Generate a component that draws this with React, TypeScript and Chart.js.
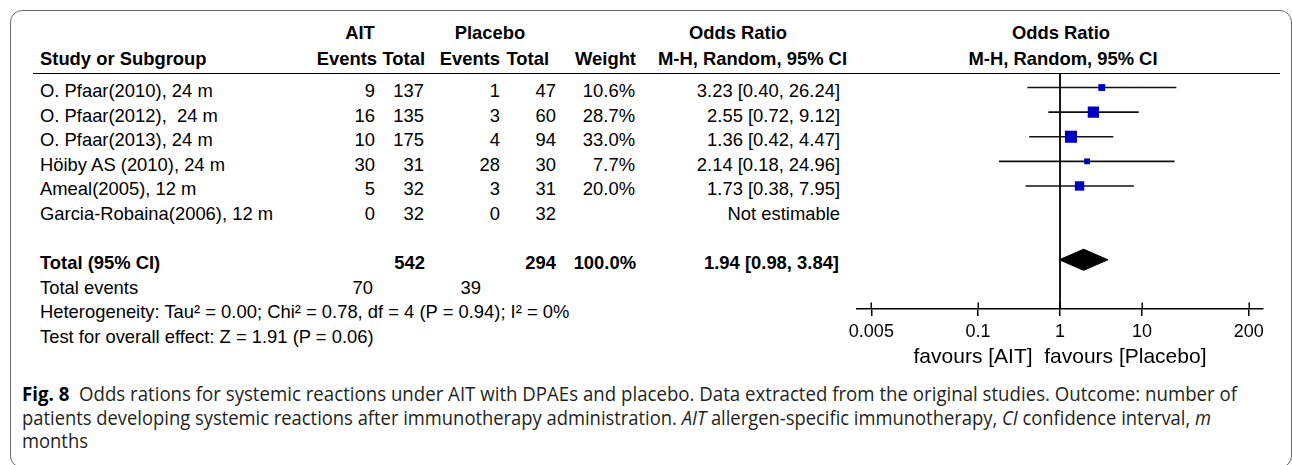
import React, { useEffect, useLayoutEffect, useRef } from "react";
import { Chart, registerables } from "chart.js";

Chart.register(...registerables);

// ---------------- data ----------------
const STUDIES = [
  "O. Pfaar(2010), 24 m",
  "O. Pfaar(2012),  24 m",
  "O. Pfaar(2013), 24 m",
  "Höiby AS (2010), 24 m",
  "Ameal(2005), 12 m",
  "Garcia-Robaina(2006), 12 m",
];
const AIT_EVENTS = [9, 16, 10, 30, 5, 0];
const AIT_TOTAL = [137, 135, 175, 31, 32, 32];
const PLACEBO_EVENTS = [1, 3, 4, 28, 3, 0];
const PLACEBO_TOTAL = [47, 60, 94, 30, 31, 32];
const WEIGHTS: (number | null)[] = [10.6, 28.7, 33.0, 7.7, 20.0, null];
const OR_EST: (number | null)[] = [3.23, 2.55, 1.36, 2.14, 1.73, null];
const OR_LOW: (number | null)[] = [0.4, 0.72, 0.42, 0.18, 0.38, null];
const OR_HIGH: (number | null)[] = [26.24, 9.12, 4.47, 24.96, 7.95, null];

const TOTAL_AIT = 542;
const TOTAL_PLACEBO = 294;
const TOTAL_WEIGHT = 100.0;
const TOTAL_EST = 1.94;
const TOTAL_LOW = 0.98;
const TOTAL_HIGH = 3.84;
const EVENTS_AIT = 70;
const EVENTS_PLACEBO = 39;

const HETEROGENEITY = "Heterogeneity: Tau² = 0.00; Chi² = 0.78, df = 4 (P = 0.94); I² = 0%";
const OVERALL = "Test for overall effect: Z = 1.91 (P = 0.06)";

const TICKS = [0.005, 0.1, 1, 10, 200];
const TICK_LABELS = ["0.005", "0.1", "1", "10", "200"];
const AXIS_TITLE = "favours [AIT]  favours [Placebo]";

// ---------------- layout (styles only) ----------------
const FONT = '"Liberation Sans", Arial, Helvetica, sans-serif';
const FS = 18.4;
const TOTAL_ROW = 7;
const Y_MIN = -0.59;
const Y_MAX = 9.0;
const ROW0_TEXT = 91;
const ROW_PITCH = 24.6;
const CANVAS_LEFT = 840;
const CANVAS_W = 452;
const CANVAS_H = 380;

const fmt2 = (v: number) => v.toFixed(2);
const orText = (e: number | null, l: number | null, h: number | null) =>
  e == null || l == null || h == null ? "Not estimable" : `${fmt2(e)} [${fmt2(l)}, ${fmt2(h)}]`;

type TProps = {
  x: number;
  y: number;
  align?: "left" | "right" | "center";
  bold?: boolean;
  size?: number;
  children: React.ReactNode;
};
function T({ x, y, align = "left", bold = false, size = FS, children }: TProps) {
  const lh = 22;
  const tx = align === "right" ? "translateX(-100%)" : align === "center" ? "translateX(-50%)" : "none";
  return (
    <div
      style={{
        position: "absolute",
        left: x,
        top: y - lh / 2,
        lineHeight: lh + "px",
        fontSize: size,
        fontWeight: bold ? 700 : 400,
        whiteSpace: "pre",
        transform: tx,
        color: "#000",
      }}
    >
      {children}
    </div>
  );
}

const upperTicks = {
  id: "upperTicks",
  afterDraw(chart: any) {
    const xs = chart.scales.x;
    const ctx = chart.ctx;
    const y = chart.chartArea.bottom;
    ctx.save();
    ctx.strokeStyle = "#000";
    ctx.lineWidth = 1.5;
    xs.ticks.forEach((t: any) => {
      const px = Math.round(xs.getPixelForValue(t.value)) + 0.25;
      ctx.beginPath();
      ctx.moveTo(px, y - 6.5);
      ctx.lineTo(px, y);
      ctx.stroke();
    });
    ctx.restore();
  },
};

export default function App() {
  const canvasRef = useRef<HTMLCanvasElement>(null);
  const cap1 = useRef<HTMLDivElement>(null);
  const cap2 = useRef<HTMLDivElement>(null);
  const cap3 = useRef<HTMLDivElement>(null);

  useEffect(() => {
    const datasets: any[] = [];
    // boxes (drawn on top -> first)
    const boxPts: any[] = [];
    const boxRadii: number[] = [];
    OR_EST.forEach((e, i) => {
      const w = WEIGHTS[i];
      if (e != null && w != null) {
        boxPts.push({ x: e, y: i });
        boxRadii.push((2.1 * Math.sqrt(w)) / Math.SQRT2);
      }
    });
    datasets.push({
      data: boxPts,
      showLine: false,
      pointStyle: "rect",
      pointRadius: boxRadii,
      pointBackgroundColor: "#0000c4",
      pointBorderWidth: 0,
      pointBorderColor: "#0000c4",
    });
    // confidence intervals
    OR_EST.forEach((e, i) => {
      const lo = OR_LOW[i];
      const hi = OR_HIGH[i];
      if (e != null && lo != null && hi != null) {
        datasets.push({
          data: [
            { x: lo, y: i },
            { x: hi, y: i },
          ],
          borderColor: "#111",
          borderWidth: 1.6,
          pointRadius: 0,
          fill: false,
        });
      }
    });
    // total diamond (two halves filled between)
    const DH = 0.43;
    datasets.push({
      data: [
        { x: TOTAL_LOW, y: TOTAL_ROW },
        { x: TOTAL_EST, y: TOTAL_ROW - DH },
        { x: TOTAL_HIGH, y: TOTAL_ROW },
      ],
      borderColor: "#000",
      borderWidth: 1,
      backgroundColor: "#000",
      pointRadius: 0,
      tension: 0,
      fill: "+1",
    });
    datasets.push({
      data: [
        { x: TOTAL_LOW, y: TOTAL_ROW },
        { x: TOTAL_EST, y: TOTAL_ROW + DH },
        { x: TOTAL_HIGH, y: TOTAL_ROW },
      ],
      borderColor: "#000",
      borderWidth: 1,
      backgroundColor: "#000",
      pointRadius: 0,
      tension: 0,
      fill: false,
    });
    // line of no effect
    datasets.push({
      data: [
        { x: 1, y: Y_MIN },
        { x: 1, y: Y_MAX },
      ],
      borderColor: "#000",
      borderWidth: 1.8,
      pointRadius: 0,
      fill: false,
    });

    const chart = new Chart(canvasRef.current as HTMLCanvasElement, {
      type: "line",
      data: { datasets },
      options: {
        responsive: false,
        animation: false,
        devicePixelRatio: 1,
        layout: { padding: { left: 17, right: 29, top: 73, bottom: 0 } },
        plugins: { legend: { display: false }, tooltip: { enabled: false } },
        scales: {
          x: {
            type: "logarithmic",
            min: 0.00334,
            max: 299,
            bounds: "data",
            afterBuildTicks: (scale: any) => {
              scale.ticks = TICKS.map((v) => ({ value: v }));
            },
            afterFit: (scale: any) => {
              scale.height = 71;
            },
            grid: {
              display: true,
              drawOnChartArea: false,
              drawTicks: true,
              tickLength: 7,
              color: "#000",
              lineWidth: 1.5,
            },
            border: { display: true, color: "#000", width: 1.5 },
            ticks: {
              autoSkip: false,
              maxRotation: 0,
              minRotation: 0,
              padding: 5,
              color: "#000",
              font: { family: FONT, size: 18 },
              callback: (_v: any, i: number) => TICK_LABELS[i],
            },
            title: {
              display: true,
              text: AXIS_TITLE,
              color: "#000",
              font: { family: FONT, size: 21 },
              padding: { top: 0, bottom: 10 },
            },
          },
          y: {
            type: "linear",
            reverse: true,
            min: Y_MIN,
            max: Y_MAX,
            display: false,
          },
        },
      } as any,
      plugins: [upperTicks],
    });
    return () => chart.destroy();
  }, []);

  useLayoutEffect(() => {
    const fit = (el: HTMLDivElement | null, target: number | null, factor?: number) => {
      if (!el) return 1;
      el.style.transform = "none";
      const w = el.getBoundingClientRect().width;
      const f = target != null ? target / w : factor || 1;
      el.style.transform = `scaleX(${f})`;
      return f;
    };
    fit(cap1.current, 1215);
    const f2 = fit(cap2.current, 1189);
    fit(cap3.current, null, f2);
  }, []);

  const rowY = (k: number) => ROW0_TEXT + ROW_PITCH * k;
  const capStyle: React.CSSProperties = {
    position: "absolute",
    left: 22,
    display: "inline-block",
    whiteSpace: "pre",
    transformOrigin: "0 0",
    fontFamily: '"Open Sans", sans-serif',
    fontSize: 19.5,
    lineHeight: "24px",
    color: "#231f20",
  };

  return (
    <div
      style={{
        position: "absolute",
        left: 0,
        top: 0,
        width: 1292,
        height: 465,
        overflow: "hidden",
        background: "#fff",
        fontFamily: FONT,
      }}
    >
      {/* frame */}
      <div
        style={{
          position: "absolute",
          left: 10,
          top: 10,
          width: 1282,
          height: 458,
          boxSizing: "border-box",
          border: "1.5px solid #6a6a6a",
          borderRadius: 12,
        }}
      />

      {/* header */}
      <T x={360} y={33} align="center" bold>AIT</T>
      <T x={490} y={33} align="center" bold>Placebo</T>
      <T x={738} y={33} align="center" bold>Odds Ratio</T>
      <T x={1061} y={33} align="center" bold>Odds Ratio</T>

      <T x={40} y={59} bold>Study or Subgroup</T>
      <T x={377} y={59} align="right" bold>Events</T>
      <T x={425} y={59} align="right" bold>Total</T>
      <T x={500} y={59} align="right" bold>Events</T>
      <T x={549} y={59} align="right" bold>Total</T>
      <T x={636} y={59} align="right" bold>Weight</T>
      <T x={847} y={59} align="right" bold>M-H, Random, 95% CI</T>
      <T x={1063} y={59} align="center" bold>M-H, Random, 95% CI</T>

      <div style={{ position: "absolute", left: 33, top: 72.5, width: 1247, height: 1.5, background: "#000" }} />

      {/* study rows */}
      {STUDIES.map((s, i) => (
        <React.Fragment key={s}>
          <T x={40} y={rowY(i)}>{s}</T>
          <T x={375} y={rowY(i)} align="right">{String(AIT_EVENTS[i])}</T>
          <T x={424} y={rowY(i)} align="right">{String(AIT_TOTAL[i])}</T>
          <T x={500} y={rowY(i)} align="right">{String(PLACEBO_EVENTS[i])}</T>
          <T x={556} y={rowY(i)} align="right">{String(PLACEBO_TOTAL[i])}</T>
          {WEIGHTS[i] != null && (
            <T x={635} y={rowY(i)} align="right">{(WEIGHTS[i] as number).toFixed(1) + "%"}</T>
          )}
          <T x={840} y={rowY(i)} align="right">{orText(OR_EST[i], OR_LOW[i], OR_HIGH[i])}</T>
        </React.Fragment>
      ))}

      {/* total */}
      <T x={40} y={rowY(TOTAL_ROW)} bold>Total (95% CI)</T>
      <T x={425} y={rowY(TOTAL_ROW)} align="right" bold>{String(TOTAL_AIT)}</T>
      <T x={556} y={rowY(TOTAL_ROW)} align="right" bold>{String(TOTAL_PLACEBO)}</T>
      <T x={636} y={rowY(TOTAL_ROW)} align="right" bold>{TOTAL_WEIGHT.toFixed(1) + "%"}</T>
      <T x={839} y={rowY(TOTAL_ROW)} align="right" bold>{orText(TOTAL_EST, TOTAL_LOW, TOTAL_HIGH)}</T>

      <T x={40} y={rowY(8)}>Total events</T>
      <T x={373} y={rowY(8)} align="right">{String(EVENTS_AIT)}</T>
      <T x={481} y={rowY(8)} align="right">{String(EVENTS_PLACEBO)}</T>
      <T x={40} y={rowY(9)}>{HETEROGENEITY}</T>
      <T x={40} y={rowY(10)}>{OVERALL}</T>

      {/* forest plot */}
      <canvas
        ref={canvasRef}
        width={CANVAS_W}
        height={CANVAS_H}
        style={{ position: "absolute", left: CANVAS_LEFT, top: 0, width: CANVAS_W, height: CANVAS_H }}
      />

      {/* caption */}
      <div ref={cap1} style={{ ...capStyle, top: 394 - 12 }}>
        <span style={{ fontWeight: 700, color: "#000" }}>Fig. 8</span>
        {"  Odds rations for systemic reactions under AIT with DPAEs and placebo. Data extracted from the original studies. Outcome: number of"}
      </div>
      <div ref={cap2} style={{ ...capStyle, top: 418 - 12 }}>
        {"patients developing systemic reactions after immunotherapy administration. "}
        <i>AIT</i>
        {" allergen-specific immunotherapy, "}
        <i>CI</i>
        {" confidence interval, "}
        <i>m</i>
      </div>
      <div ref={cap3} style={{ ...capStyle, top: 441 - 12 }}>
        months
      </div>
    </div>
  );
}
